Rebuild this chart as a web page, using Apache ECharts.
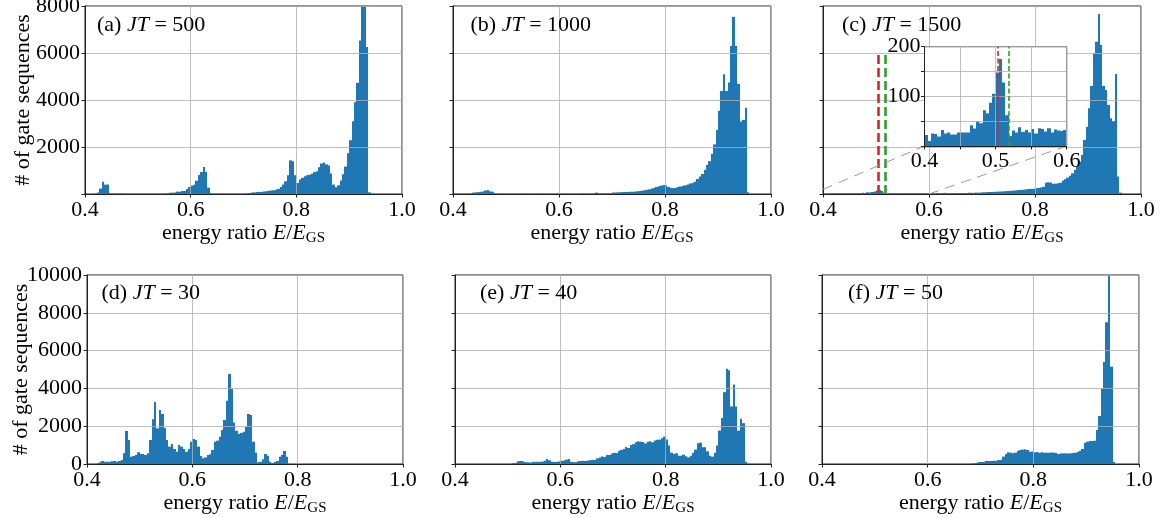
<!DOCTYPE html>
<html>
<head>
<meta charset="utf-8">
<script src="https://cdn.jsdelivr.net/npm/echarts/dist/echarts.min.js"></script>
<style>
html,body{margin:0;padding:0;background:#fff;}
#chart{width:1162px;height:518px;}
</style>
</head>
<body>
<div id="chart"></div>
<script>
// ---------- data ----------
// histogram bins: bin k covers [binStart + k*binWidth, binStart + (k+1)*binWidth)
const binStart = 0.4;
const binWidth = 1 / 220;

// first bin index of each panel's counts array (a..f)
const firstBins = [4, 0, 0, 4, 24, 62];

const countsA = [
  20,60,230,525,400,400,
  30,20,25,15,20,25,15,10,8,12,
  10,10,8,10,12,10,10,12,10,15,
  12,15,15,20,30,50,57,60,100,100,
  128,128,213,300,355,397,567,808,936,1148,
  950,270,30,10,10,8,10,10,10,8,
  10,10,10,12,10,10,15,20,40,60,
  70,80,80,90,110,120,140,150,160,185,
  220,300,400,540,800,1430,1390,800,470,615,
  690,760,800,820,860,930,970,1140,1300,1340,
  1260,1215,870,400,285,370,570,840,1170,1730,
  2290,3100,3900,4730,6530,8000,8000,6260,70
];
const countsB = [
  10,10,12,10,12,15,15,20,60,70,
  80,100,110,150,170,110,100,20,15,15,
  12,15,15,12,15,15,12,15,15,12,
  15,15,12,15,15,15,12,15,15,15,
  15,15,12,15,15,15,15,15,15,15,
  15,15,15,20,15,15,20,15,20,60,
  20,20,25,25,30,30,60,65,70,75,
  80,90,85,100,95,110,115,130,140,160,
  180,200,230,260,300,330,360,380,360,300,
  260,250,270,300,320,350,370,400,450,480,
  525,640,740,850,1020,1230,1400,1700,2110,2720,
  3545,4380,5100,4380,4740,6300,7540,6300,4690,3080,
  3150,3670,70
];
const countsC = [
  22,10,25,24,19,32,25,27,23,23,
  27,27,27,27,42,35,50,46,72,66,
  87,105,148,175,128,62,20,31,27,38,
  28,32,27,34,25,36,34,29,36,27,
  33,31,30,32,30,40,25,45,30,35,
  50,30,40,30,35,40,35,40,45,40,
  50,55,50,60,55,65,70,75,80,85,
  90,95,100,105,110,120,125,135,140,150,
  160,170,180,185,200,210,220,225,240,260,
  280,310,480,500,490,440,440,460,480,570,
  625,695,780,880,1020,1160,1375,1660,2300,2865,
  3645,4595,5985,6480,7660,6340,4595,4425,3790,3220,
  3100,5105,740,60
];
const countsD = [
  40,90,160,120,120,120,
  140,160,120,160,210,565,1750,1270,390,420,
  475,620,530,530,475,565,1270,2365,3280,1890,
  2860,2650,1900,1270,920,1060,795,650,1005,920,
  800,650,795,1180,1320,1270,920,425,300,350,
  475,510,740,1180,1235,1445,1800,2330,3350,4760,
  4000,2200,1760,1590,1650,1710,1975,2650,2590,1180,
  600,90,120,250,530,440,120,60,100,160,
  390,475,690,390
];
const countsE = [
  50,70,150,160,150,100,
  90,80,120,110,120,110,130,170,260,200,
  120,110,120,130,160,180,230,260,120,100,
  90,150,160,170,160,180,200,220,210,300,
  350,400,380,470,480,560,600,580,700,750,
  800,900,850,1000,1050,1150,1200,1180,1170,1090,
  1180,1200,1150,1240,1280,1290,1360,1450,1290,975,
  600,530,565,440,440,495,405,355,440,600,
  760,1100,1130,885,885,670,440,390,600,975,
  1770,2440,3800,5045,4955,3045,4210,3045,1770,2390,
  2160,125
];
const countsF = [
  20,35,60,105,105,110,160,160,
  160,170,160,210,210,390,530,620,600,565,
  600,705,740,760,775,740,650,660,620,630,
  600,620,600,600,590,610,600,600,530,560,
  565,570,560,565,580,600,650,700,795,1130,
  1180,1220,1220,1230,1800,2540,4000,5400,7500,10500,
  5150,100
];
// inset of panel (c): the first 44 bins (0.4 - 0.6) of countsC
const insetBins = 44;

const panelLetters = ['(a)', '(b)', '(c)', '(d)', '(e)', '(f)'];
const jtValues = [500, 1000, 1500, 30, 40, 50];
const xTickValues = [0.4, 0.6, 0.8, 1.0];
const yMaxRows = [8000, 10000];
const yStep = 2000;
const insetX = [0.4, 0.6];
const insetXStep = 0.05;
const insetY = [0, 200];
const insetYStep = 50;
const redLineX = 0.5035;
const greenLineX = 0.518;
const mainLineFrac = 0.75; // axvline ymax

// ---------- style / layout ----------
const FONT = 'Liberation Serif';
const BAR = '#1f77b4';
const RED = '#d62728';
const GREEN = '#2ca02c';
const SPINE = '#222';
const GRIDC = '#b0b0b0';

const gridRects = [
  {left: 85, top: 6, width: 317, height: 188},
  {left: 453, top: 6, width: 318, height: 188},
  {left: 823, top: 6, width: 318, height: 188},
  {left: 87, top: 275, width: 316, height: 189},
  {left: 455, top: 275, width: 316, height: 189},
  {left: 822, top: 275, width: 317, height: 189}
];
const insetRect = {left: 924.5, top: 46.7, width: 142.2, height: 99.3};
const labelPos = [[97, 12.5], [470.5, 12.5], [842, 12.5], [101.5, 280.5], [480, 280.5], [848, 280.5]];

const allCounts = [countsA, countsB, countsC, countsD, countsE, countsF];

function hist(counts, first) {
  return counts.map((c, i) => {
    const k = first + i;
    return [binStart + k * binWidth, binStart + (k + 1) * binWidth, c];
  }).filter(d => d[2] > 0);
}

function renderBar(params, api) {
  const a = api.coord([api.value(0), 0]);
  const b = api.coord([api.value(1), api.value(2)]);
  const cs = params.coordSys;
  const topY = Math.max(b[1], cs.y);
  const x0 = Math.round(a[0]);
  const x1 = Math.round(b[0]);
  return {
    type: 'rect',
    shape: {x: x0, y: topY, width: Math.max(x1 - x0, 1), height: a[1] - topY},
    style: {fill: BAR}
  };
}

const richBase = {
  r: {fontFamily: FONT, fontSize: 22, fontWeight: 'normal', color: '#000', lineHeight: 26},
  i: {fontFamily: FONT, fontSize: 22, fontWeight: 'normal', color: '#000', fontStyle: 'italic', lineHeight: 26},
  s: {fontFamily: FONT, fontSize: 15, fontWeight: 'normal', color: '#000', lineHeight: 16, verticalAlign: 'bottom'}
};

const grids = gridRects.map(g => Object.assign({}, g, {
  show: true, borderColor: SPINE, borderWidth: 1, backgroundColor: 'transparent',
  containLabel: false, outerBoundsMode: 'none', z: 1
}));
grids.push(Object.assign({}, insetRect, {
  show: true, borderColor: SPINE, borderWidth: 1, backgroundColor: '#fff',
  containLabel: false, outerBoundsMode: 'none', z: 10
}));

const xAxes = [];
const yAxes = [];
const series = [];

gridRects.forEach((g, i) => {
  const row = i < 3 ? 0 : 1;
  const col = i % 3;
  xAxes.push({
    type: 'value', gridIndex: i,
    min: xTickValues[0], max: xTickValues[xTickValues.length - 1],
    interval: xTickValues[1] - xTickValues[0], z: 3,
    axisLine: {show: true, onZero: false, lineStyle: {color: SPINE, width: 1}},
    axisTick: {show: true, length: 3.5, lineStyle: {color: SPINE, width: 1}},
    axisLabel: {show: true, margin: 5, fontFamily: FONT, fontSize: 22, color: '#000',
      formatter: v => v.toFixed(1)},
    splitLine: {show: true, lineStyle: {color: GRIDC, width: 0.8}},
    name: '{r|energy ratio }{i|E}{r|/}{i|E}{s|GS}',
    nameLocation: 'middle', nameGap: 22,
    nameTextStyle: {fontFamily: FONT, fontSize: 22, color: '#000', rich: richBase}
  });
  yAxes.push({
    type: 'value', gridIndex: i, min: 0, max: yMaxRows[row], interval: yStep, z: 3,
    axisLine: {show: true, onZero: false, lineStyle: {color: SPINE, width: 1}},
    axisTick: {show: true, length: 3.5, lineStyle: {color: SPINE, width: 1}},
    axisLabel: {show: col === 0, margin: 5, fontFamily: FONT, fontSize: 22, color: '#000',
      formatter: v => (row === 0 && v === 0) ? '' : String(v)},
    splitLine: {show: true, lineStyle: {color: GRIDC, width: 0.8}},
    name: col === 0 ? '# of gate sequences' : '',
    nameLocation: 'middle', nameMoveOverlap: false,
    nameGap: row === 0 ? 51 : 55,
    nameTextStyle: {fontFamily: FONT, fontSize: 22, color: '#000'}
  });
  const s = {
    type: 'custom', xAxisIndex: i, yAxisIndex: i,
    data: hist(allCounts[i], firstBins[i]),
    encode: {x: [0, 1], y: 2},
    renderItem: renderBar, clip: true, z: 2, silent: true, animation: false
  };
  if (i === 2) {
    const top = mainLineFrac * yMaxRows[0];
    s.markLine = {
      silent: true, symbol: 'none', z: 5, animation: false,
      label: {show: false},
      lineStyle: {width: 2.6, type: [9, 4]},
      data: [
        [{coord: [redLineX, 0], lineStyle: {color: RED, width: 2.6, type: [9, 4]}}, {coord: [redLineX, top]}],
        [{coord: [greenLineX, 0], lineStyle: {color: GREEN, width: 2.6, type: [9, 4]}}, {coord: [greenLineX, top]}]
      ]
    };
  }
  series.push(s);
});

// inset axes (index 6)
xAxes.push({
  type: 'value', gridIndex: 6, min: insetX[0], max: insetX[1], interval: insetXStep, z: 12,
  axisLine: {show: true, onZero: false, lineStyle: {color: SPINE, width: 1}},
  axisTick: {show: true, length: 3.5, lineStyle: {color: SPINE, width: 1}},
  axisLabel: {show: true, margin: 4, fontFamily: FONT, fontSize: 22, color: '#000',
    formatter: v => Math.abs(v * 10 - Math.round(v * 10)) < 1e-6 ? v.toFixed(1) : ''},
  splitLine: {show: true, lineStyle: {color: GRIDC, width: 0.8}}
});
yAxes.push({
  type: 'value', gridIndex: 6, min: insetY[0], max: insetY[1], interval: insetYStep, z: 12,
  axisLine: {show: true, onZero: false, lineStyle: {color: SPINE, width: 1}},
  axisTick: {show: true, length: 3.5, lineStyle: {color: SPINE, width: 1}},
  axisLabel: {show: true, margin: 4, fontFamily: FONT, fontSize: 22, color: '#000',
    formatter: v => (v > 0 && v % 100 === 0) ? String(v) : ''},
  splitLine: {show: true, lineStyle: {color: GRIDC, width: 0.8}}
});
series.push({
  type: 'custom', xAxisIndex: 6, yAxisIndex: 6,
  data: hist(countsC.slice(0, insetBins), firstBins[2]),
  encode: {x: [0, 1], y: 2},
  renderItem: renderBar, clip: true, z: 11, silent: true, animation: false,
  markLine: {
    silent: true, symbol: 'none', z: 13, animation: false,
    label: {show: false},
    data: [
      [{coord: [redLineX, insetY[0]], lineStyle: {color: RED, width: 1.6, type: [5, 2.5]}}, {coord: [redLineX, insetY[1]]}],
      [{coord: [greenLineX, insetY[0]], lineStyle: {color: GREEN, width: 1.6, type: [5, 2.5]}}, {coord: [greenLineX, insetY[1]]}]
    ]
  }
});

const titles = panelLetters.map((L, i) => ({
  text: '{r|' + L + ' }{i|JT}{r| = ' + jtValues[i] + '}',
  left: labelPos[i][0], top: labelPos[i][1], padding: 0, z: 6,
  textStyle: {fontWeight: 'normal', rich: richBase}
}));

const chart = echarts.init(document.getElementById('chart'), null, {renderer: 'canvas'});
chart.setOption({
  animation: false,
  backgroundColor: '#fff',
  textStyle: {fontFamily: FONT},
  title: titles,
  grid: grids,
  xAxis: xAxes,
  yAxis: yAxes,
  series: series
});

// inset connector lines (computed through the axes' scales)
const p1 = chart.convertToPixel({gridIndex: 2}, [insetX[0], insetY[1]]);
const q1 = chart.convertToPixel({gridIndex: 6}, [insetX[0], insetY[0]]);
const p2 = chart.convertToPixel({gridIndex: 2}, [insetX[1], insetY[0]]);
const q2 = chart.convertToPixel({gridIndex: 6}, [insetX[1], insetY[0]]);
const conStyle = {stroke: '#9a9a9a', lineWidth: 1, lineDash: [10, 7]};
chart.setOption({
  graphic: [
    {type: 'line', z: 5, silent: true, shape: {x1: p1[0], y1: p1[1], x2: q1[0], y2: q1[1]}, style: conStyle},
    {type: 'line', z: 5, silent: true, shape: {x1: p2[0], y1: p2[1], x2: q2[0], y2: q2[1]}, style: conStyle}
  ]
});
</script>
</body>
</html>
